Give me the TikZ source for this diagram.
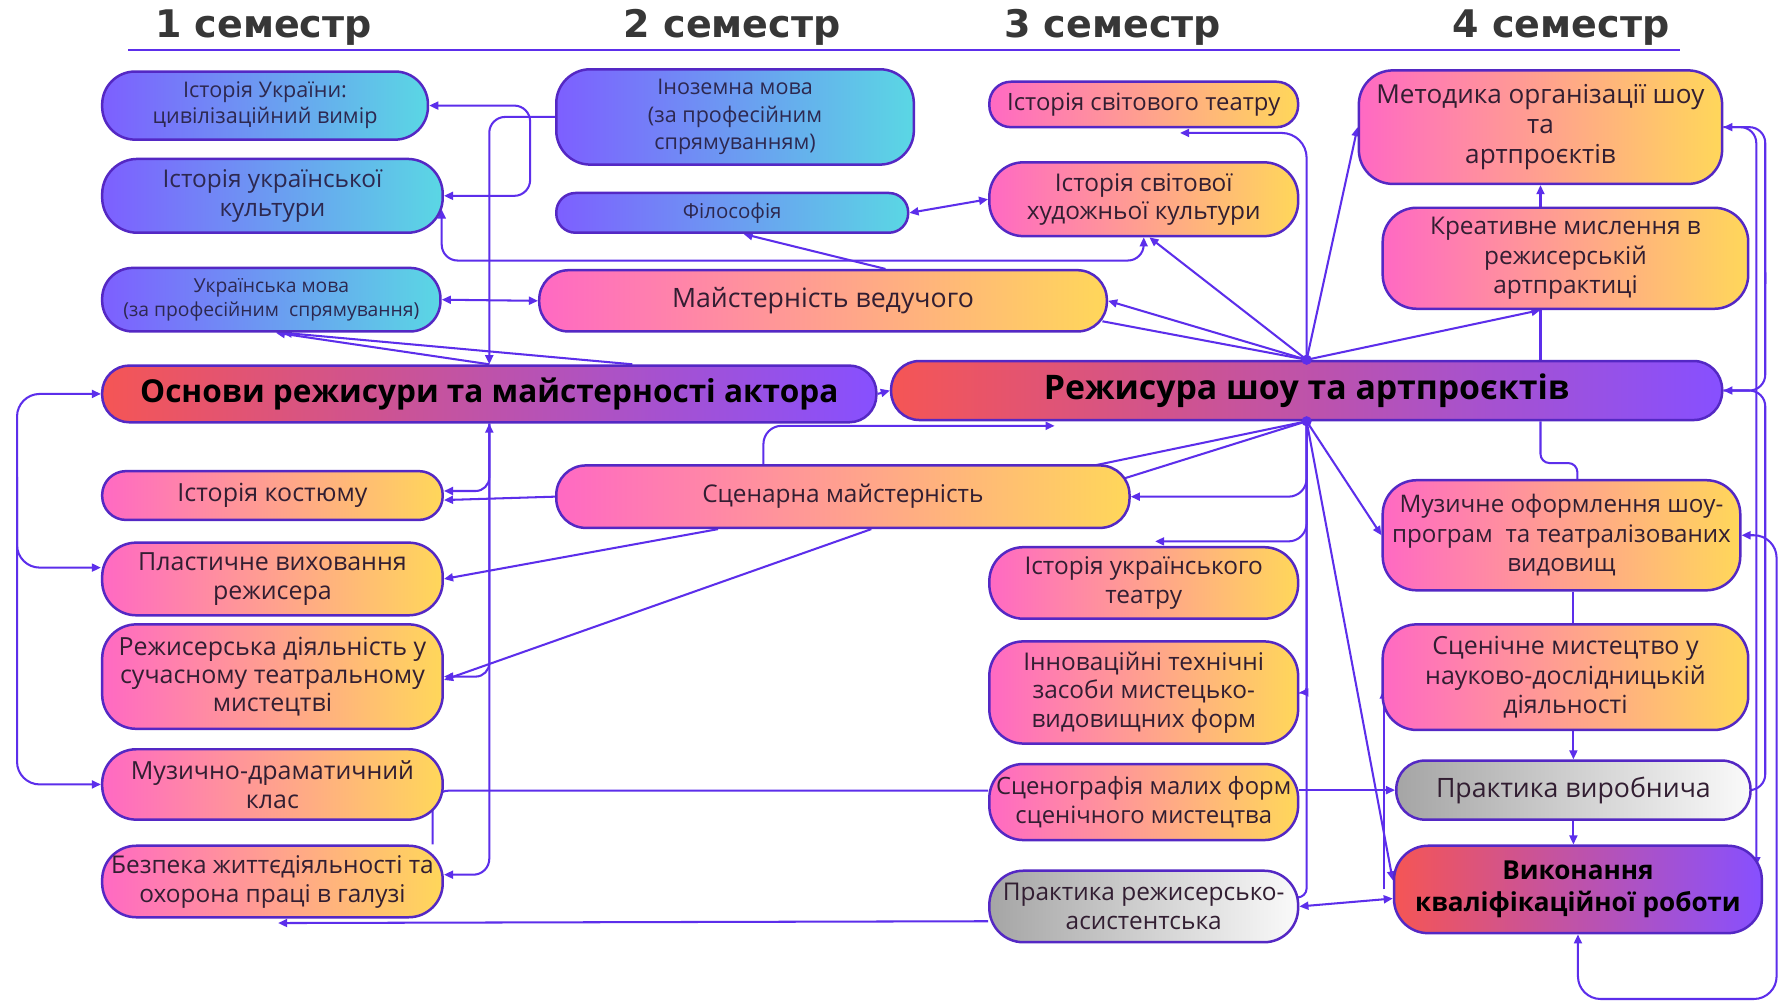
\documentclass[tikz,border=0pt]{standalone}
\usepackage{fontspec}
\setmainfont{Open Sans}
\newfontfamily\hdrfont{DejaVu Sans}
\usetikzlibrary{arrows.meta,calc,backgrounds}
\definecolor{lc}{RGB}{92,46,235}
\definecolor{bc}{RGB}{84,40,196}
\definecolor{tc}{RGB}{50,30,50}
\definecolor{tb}{RGB}{45,40,80}
\definecolor{bl1}{RGB}{125,95,255}
\definecolor{bl2}{RGB}{90,215,228}
\definecolor{pk1}{RGB}{255,105,195}
\definecolor{pk2}{RGB}{255,215,90}
\definecolor{rd1}{RGB}{245,85,85}
\definecolor{rd2}{RGB}{135,80,255}
\definecolor{gr1}{RGB}{165,165,165}
\definecolor{gr2}{RGB}{250,250,250}
\definecolor{hc}{RGB}{55,55,55}
\newcommand\fsz[2]{\fontsize{#1}{#2}\selectfont}
\begin{document}
\begin{tikzpicture}[x=1pt,y=-1pt,
  nbox/.style={draw=bc, line width=2.2pt, align=center, inner sep=1pt, text=tc},
  blueb/.style={nbox, left color=bl1, right color=bl2, text=tb},
  pinkb/.style={nbox, left color=pk1, right color=pk2},
  redb/.style={nbox, left color=rd1, right color=rd2, text=black},
  grayb/.style={nbox, left color=gr1, right color=gr2},
  hdr/.style={font=\hdrfont\bfseries\fsz{33.5}{38}, text=hc},
  conn/.style={draw=lc, line width=1.8pt},
  arr/.style={conn, -{Triangle[length=8pt,width=7pt]}},
  biarr/.style={conn, {Triangle[length=8pt,width=7pt]}-{Triangle[length=8pt,width=7pt]}},
]
\useasboundingbox (0,0) rectangle (1568,887);

% headers
\node[hdr] (s1) at (232,24) {1 семестр};
\node[hdr] (s2) at (645,24) {2 семестр};
\node[hdr] (s3) at (980,24) {3 семестр};
\node[hdr] (s4) at (1375,24) {4 семестр};
\coordinate (ul) at (113,44);
\coordinate (ur) at (1480,44);

% column 1
\node[blueb, minimum width=287pt, minimum height=60pt, rounded corners=29pt, font=\fsz{19}{23}] (istukr) at (233.5,93) {Історія України:\\цивілізаційний вимір};
\node[blueb, minimum width=300pt, minimum height=65pt, rounded corners=31pt, font=\fsz{21.5}{25}] (istkult) at (240,172.5) {Історія української\\культури};
\node[blueb, minimum width=298pt, minimum height=56pt, rounded corners=27pt, font=\fsz{17}{21}] (ukrmova) at (239,264) {Українська мова\\(за професійним\ \ спрямування)};
\node[redb, minimum width=682pt, minimum height=50pt, rounded corners=24pt, font=\bfseries\fsz{27.8}{31}] (osnovy) at (431,347) {Основи режисури та майстерності актора};
\node[pinkb, minimum width=300pt, minimum height=43pt, rounded corners=21pt, font=\fsz{22}{25.5}] (istkost) at (240,436.5) {Історія костюму};
\node[pinkb, minimum width=300pt, minimum height=64pt, rounded corners=30pt, font=\fsz{22}{25.5}] (plast) at (240,510) {Пластичне виховання\\режисера};
\node[pinkb, minimum width=300pt, minimum height=92pt, rounded corners=30pt, font=\fsz{22}{25}] (rezhd) at (240,596) {Режисерська діяльність у\\сучасному театральному\\мистецтві};
\node[pinkb, minimum width=300pt, minimum height=62pt, rounded corners=30pt, font=\fsz{22}{25.5}] (muzdr) at (240,691) {Музично-драматичний\\клас};
\node[pinkb, minimum width=300pt, minimum height=63pt, rounded corners=30pt, font=\fsz{21.5}{25.5}] (bezp) at (240,776.5) {Безпека життєдіяльності та\\охорона праці в галузі};

% column 2
\node[blueb, minimum width=315pt, minimum height=84pt, rounded corners=30pt, font=\fsz{19}{24}] (inoz) at (647.5,103) {Іноземна мова\\(за професійним\\спрямуванням)};
\node[blueb, minimum width=310pt, minimum height=35pt, rounded corners=17pt, font=\fsz{18}{21}] (filos) at (645,187.5) {Філософія};
\node[pinkb, minimum width=500pt, minimum height=54pt, rounded corners=26pt, font=\fsz{23.5}{27}] (maistved) at (725,265) {Майстерність ведучого};
\node[pinkb, minimum width=505pt, minimum height=55pt, rounded corners=26pt, font=\fsz{21.5}{25}] (scenm) at (742.5,437.5) {Сценарна майстерність};

% column 3
\node[redb, minimum width=732pt, minimum height=52pt, rounded corners=25pt, font=\bfseries\fsz{29.8}{33}] (rezhshow) at (1151,344) {Режисура шоу та артпроєктів};
\node[pinkb, minimum width=272pt, minimum height=40pt, rounded corners=19pt, font=\fsz{21}{24}] (istsvitt) at (1007.5,92) {Історія світового театру};
\node[pinkb, minimum width=272pt, minimum height=65pt, rounded corners=30pt, font=\fsz{21.5}{25}] (istsvithk) at (1007.5,175.5) {Історія світової\\художньої культури};
\node[pinkb, minimum width=272pt, minimum height=63pt, rounded corners=30pt, font=\fsz{21.5}{25}] (istukrt) at (1007.5,513.5) {Історія українського\\театру};
\node[pinkb, minimum width=272pt, minimum height=90pt, rounded corners=30pt, font=\fsz{21.5}{25}] (innov) at (1007.5,610) {Інноваційні технічні\\засоби мистецько-\\видовищних форм};
\node[pinkb, minimum width=272pt, minimum height=67pt, rounded corners=30pt, font=\fsz{21}{25}] (scenogr) at (1007.5,706.5) {Сценографія малих форм\\сценічного мистецтва};
\node[grayb, minimum width=272pt, minimum height=63pt, rounded corners=30pt, font=\fsz{21.5}{25}] (praktras) at (1007.5,798.5) {Практика режисерсько-\\асистентська};

% column 4
\node[pinkb, minimum width=320pt, minimum height=100pt, rounded corners=30pt, font=\fsz{23}{26.5}] (metod) at (1357,112) {Методика організації шоу\\та\\артпроєктів};
\node[pinkb, minimum width=322pt, minimum height=89pt, rounded corners=30pt, font=\fsz{21.5}{26}] (kreat) at (1379,227.5) {Креативне мислення в\\режисерській\\артпрактиці};
\node[pinkb, minimum width=315pt, minimum height=97pt, rounded corners=30pt, font=\fsz{21.3}{26}] (muzof) at (1375.5,471.5) {Музичне оформлення шоу-\\програм\ \ та театралізованих\\видовищ};
\node[pinkb, minimum width=322pt, minimum height=93pt, rounded corners=30pt, font=\fsz{22}{26}] (scenmist) at (1379,596.5) {Сценічне мистецтво у\\науково-дослідницькій\\діяльності};
\node[grayb, minimum width=312pt, minimum height=52pt, rounded corners=25pt, font=\fsz{23.5}{27}] (praktvyr) at (1386,696) {Практика виробнича};
\node[redb, minimum width=324pt, minimum height=77pt, rounded corners=30pt, font=\bfseries\fsz{23}{28}] (vyk) at (1390,783.5) {Виконання\\кваліфікаційної роботи};

\begin{scope}[on background layer]
\fill[white] (0,0) rectangle (1568,887);
\draw[lc, line width=1.5pt] (ul) -- (ur);

% top left
\draw[arr, rounded corners=14pt] (inoz.west) -| (osnovy.north);
\draw[biarr, rounded corners=14pt] (istukr.east) -| (467,130) |- (istkult.east);
\draw[biarr, rounded corners=14pt] (istsvithk.south) |- ($(istkult.east)+(-2,57)$) -- ($(istkult.east)+(-2,12)$);
\draw[biarr] (ukrmova.east) -- (maistved.west);
\draw[arr] (osnovy.north) -- ($(ukrmova.south)+(4,0)$);
\draw[arr] ($(osnovy.north)+(126,0)$) -- ($(ukrmova.south)+(10,0)$);
\draw[biarr] (filos.east) -- (istsvithk.west);
\draw[arr] ($(maistved.north)+(55,0)$) -- ($(filos.south)+(10,0)$);

% hub top
\coordinate (hT) at (rezhshow.north);
\draw[arr] (hT) -- (maistved.east);
\draw[conn] (hT) -- ($(maistved.east)+(-5,18)$);
\draw[arr] (hT) -- ($(istsvithk.south)+(5,0)$);
\draw[arr, rounded corners=22pt] (hT) |- ($(istsvitt.south)+(32,4)$);
\draw[arr] (hT) -- (metod.west);
\coordinate (kB) at ($(kreat.south)+(-22,0)$);
\draw[arr] (hT) -- (kB);
\draw[conn] (kB) -- (kB |- rezhshow.north);
\draw[arr] (metod.south |- kreat.north) -- (metod.south);
\draw[arr] (osnovy.east) -- (rezhshow.west);

% hub bottom
\coordinate (hB) at (rezhshow.south);
\draw[arr, rounded corners=16pt] ($(scenm.north)+(-70,0)$) |- ($(rezhshow.south)+(-222,4)$);
\draw[conn] (hB) -- ($(scenm.north)+(222,1)$);
\draw[conn] (hB) -- ($(scenm.east)+(-6,-16)$);
\draw[arr, rounded corners=16pt] (hB) |- (scenm.east);
\draw[arr, rounded corners=16pt] (hB) |- ($(istukrt.north)+(10,-4)$);
\draw[arr, rounded corners=4pt] (hB) |- (innov.east);
\draw[conn, rounded corners=8pt] (hB) |- ($(praktras.east)+(0,-8)$);
\draw[arr] (hB) -- (muzof.west);
\draw[arr] (hB) -- ($(vyk.west)+(0,-8)$);
\coordinate (v1) at (scenmist.west |- vyk.west);
\draw[arr] ($(v1)+(2,0)$) -- ($(scenmist.west)+(2,11)$);
\coordinate (sE) at (scenogr.east |- praktvyr.west);
\draw[arr] (sE) -- (praktvyr.west);
\draw[biarr] (praktras.east) -- ($(vyk.west)+(0,8)$);

% left side
\draw[conn, rounded corners=14pt] ($(bezp.north east)+(-10,0)$) |- ($(scenogr.west)+(0,-10)$);
\draw[arr] ($(praktras.west)+(0,13)$) -- ($(bezp.south)+(5,4)$);
\draw[biarr, rounded corners=20pt] (osnovy.west) -| (15,520) |- (muzdr.west);
\coordinate (lv) at (15,420);
\draw[arr, rounded corners=20pt] (lv) |- ($(plast.west)+(0,-10)$);
\draw[biarr, rounded corners=14pt] (osnovy.south) |- ($(bezp.east)+(0,-6)$);
\draw[arr, rounded corners=12pt] (osnovy.south) |- ($(istkost.east)+(0,-4)$);
\draw[arr, rounded corners=12pt] (osnovy.south) |- (rezhd.east);
\draw[arr] (scenm.west) -- ($(istkost.east)+(0,4)$);
\draw[arr] ($(scenm.south)+(-110,0)$) -- (plast.east);
\draw[arr] ($(scenm.south)+(25,0)$) -- ($(rezhd.east)+(0,3)$);

% right column
\coordinate (rS) at ($(rezhshow.south)+(206,0)$);
\draw[conn, rounded corners=8pt] (rS) |- ($(muzof.north)+(14,-14)$) -- ($(muzof.north)+(14,0)$);
\draw[conn] (praktvyr.north |- muzof.south) -- (praktvyr.north |- scenmist.north);
\draw[arr] (praktvyr.north |- scenmist.south) -- (praktvyr.north);
\draw[arr] (praktvyr.south) -- (praktvyr.south |- vyk.north);

% right edge
\draw[biarr, rounded corners=14pt] (metod.east) -| ($(vyk.east)+(-6,-20.5)$);
\draw[conn, rounded corners=14pt] (metod.east) -| (1555,250);
\draw[arr, rounded corners=14pt] (1555,240) |- (rezhshow.east);
\draw[arr, rounded corners=14pt] (rezhshow.east) -| (1555,600) |- (praktvyr.east);
\draw[biarr, rounded corners=20pt] (muzof.east) -| (1565,880) -| (vyk.south);
\end{scope}
\fill[lc] (hT) circle (4.5);
\fill[lc] (hB) circle (4.5);
\end{tikzpicture}
\end{document}
